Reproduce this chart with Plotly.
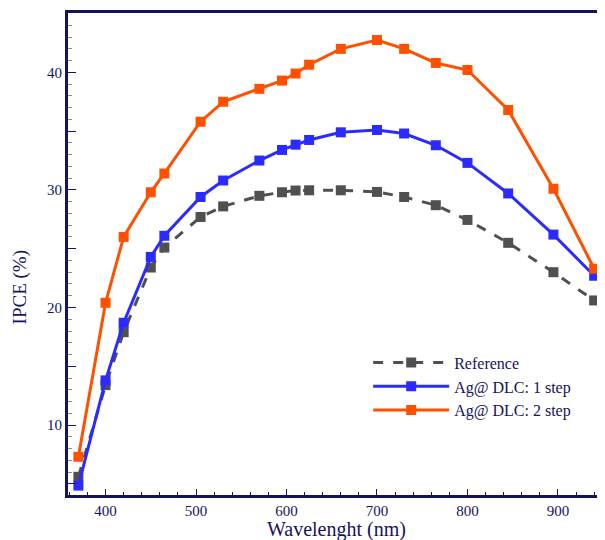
import plotly.graph_objects as go

wavelength = [370, 400, 420, 450, 465, 505, 530, 570, 595, 610, 625, 660, 700, 730, 765, 800, 845, 895, 940]
ref_ipce = [5.6, 13.4, 17.9, 23.4, 25.1, 27.7, 28.6, 29.5, 29.8, 29.95, 29.97, 29.97, 29.83, 29.4, 28.7, 27.45, 25.5, 23.0, 20.6]
step1_ipce = [4.85, 13.8, 18.7, 24.3, 26.1, 29.4, 30.8, 32.5, 33.4, 33.85, 34.25, 34.9, 35.1, 34.8, 33.8, 32.3, 29.7, 26.2, 22.7]
step2_ipce = [7.3, 20.4, 26.0, 29.8, 31.4, 35.8, 37.5, 38.6, 39.3, 39.9, 40.65, 42.0, 42.75, 42.0, 40.8, 40.2, 36.8, 30.1, 23.3]

names = ["Reference", "Ag@ DLC: 1 step", "Ag@ DLC: 2 step"]
y_ticks = [5, 10, 15, 20, 25, 30, 35, 40, 45]
y_labels = ["", "10", "", "20", "", "30", "", "40", ""]

navy = "#14145a"
serif = "Liberation Serif, Times New Roman, serif"

fig = go.Figure()
fig.add_trace(go.Scatter(x=wavelength, y=ref_ipce, name=names[0], mode="lines+markers",
                         line=dict(color="#505050", width=3, dash="10px,10px"),
                         marker=dict(symbol="square", size=10, color="#505050")))
fig.add_trace(go.Scatter(x=wavelength, y=step1_ipce, name=names[1], mode="lines+markers",
                         line=dict(color="#2b2bff", width=3),
                         marker=dict(symbol="square", size=10, color="#2b2bff")))
fig.add_trace(go.Scatter(x=wavelength, y=step2_ipce, name=names[2], mode="lines+markers",
                         line=dict(color="#ff5000", width=3),
                         marker=dict(symbol="square", size=10, color="#ff5000")))

# page body has an 8px margin, so the figure is sized to the visible area
fig.update_layout(
    width=597, height=532,
    margin=dict(l=60, r=0, t=5, b=45),
    paper_bgcolor="white", plot_bgcolor="white",
    font=dict(family=serif, color=navy, size=15),
    legend=dict(x=0.559, y=0.31, xanchor="left", yanchor="top",
                bgcolor="rgba(0,0,0,0)", font=dict(size=16, color=navy),
                itemwidth=76, tracegroupgap=0),
    annotations=[
        dict(text="Wavelenght (nm)", x=0.5, y=-0.044, xref="paper", yref="paper",
             xanchor="center", yanchor="top", showarrow=False,
             font=dict(size=20, color=navy, family=serif)),
        dict(text="IPCE (%)", x=-0.09, y=0.43, xref="paper", yref="paper",
             xanchor="center", yanchor="middle", textangle=-90, showarrow=False,
             font=dict(size=19, color=navy, family=serif)),
    ],
)
fig.update_xaxes(range=[358.5, 952], showgrid=False, zeroline=False, automargin=False,
                 showline=True, linecolor=navy, linewidth=3, mirror=True,
                 ticks="inside", ticklen=6, tickwidth=1, tickcolor=navy,
                 tickvals=[400, 500, 600, 700, 800, 900],
                 minor=dict(dtick=20, ticks="inside", ticklen=3, tickcolor=navy),
                 tickfont=dict(size=15, color=navy))
fig.update_yaxes(range=[4.05, 45.05], showgrid=False, zeroline=False, automargin=False,
                 showline=True, linecolor=navy, linewidth=3,
                 ticks="inside", ticklen=8, tickwidth=1, tickcolor=navy,
                 tickmode="array", tickvals=y_ticks, ticktext=y_labels,
                 minor=dict(dtick=1, ticks="inside", ticklen=4, tickcolor="#8888aa"),
                 tickfont=dict(size=15, color=navy))

fig.write_html("out.html")
